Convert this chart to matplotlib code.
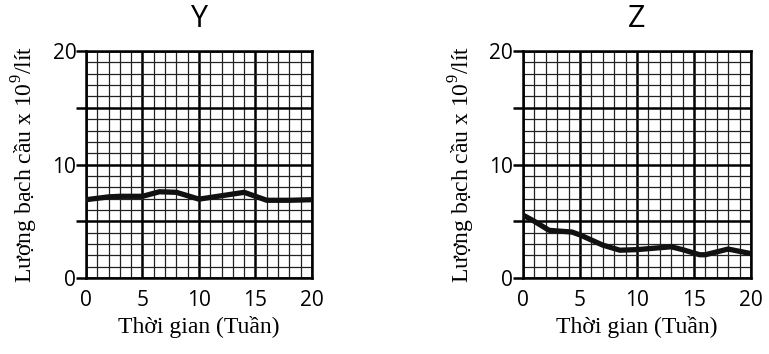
import matplotlib
matplotlib.use("Agg")
import matplotlib.pyplot as plt
import numpy as np

# values
y_weeks = [0, 2, 3, 5, 6.5, 8, 10, 12, 14, 15, 16, 18, 20]
y_vals = [6.9, 7.15, 7.2, 7.2, 7.6, 7.55, 6.95, 7.25, 7.55, 7.2, 6.85, 6.85, 6.9]

z_weeks = [0, 1, 2.3, 4.3, 5, 7, 8.5, 10, 13, 14, 15.5, 16, 18, 20]
z_vals = [5.55, 5.0, 4.2, 4.05, 3.8, 2.9, 2.45, 2.5, 2.75, 2.5, 2.05, 2.05, 2.55, 2.15]

panels = [("Y", y_weeks, y_vals), ("Z", z_weeks, z_vals)]
x_ticks = [0, 5, 10, 15, 20]
y_ticks = [0, 5, 10, 15, 20]
y_ticklabels = ["0", "", "10", "", "20"]

plt.rcParams["mathtext.fontset"] = "custom"
plt.rcParams["mathtext.rm"] = "Liberation Serif"

fig = plt.figure(figsize=(7.69, 3.54), dpi=100)
boxes = [[0.1118, 0.2147, 0.2939, 0.641], [0.680, 0.2147, 0.2965, 0.641]]

for box, (name, wk, vals) in zip(boxes, panels):
    ax = fig.add_axes(box)
    ax.set_xlim(0, 20)
    ax.set_ylim(0, 20)
    ax.set_xticks(x_ticks)
    ax.set_yticks(y_ticks)
    ax.set_yticklabels(y_ticklabels)
    ax.set_xticks(np.arange(0, 21, 1), minor=True)
    ax.set_yticks(np.arange(0, 21, 1), minor=True)
    ax.grid(which="minor", color="#222222", linewidth=0.9)
    ax.grid(which="major", color="black", linewidth=1.8)
    ax.tick_params(axis="x", which="both", length=0, pad=9)
    ax.tick_params(axis="y", which="major", length=7, width=1.8, pad=0)
    ax.tick_params(axis="y", which="minor", length=0)
    for lab in ax.get_xticklabels() + ax.get_yticklabels():
        lab.set_fontfamily("Open Sans")
        lab.set_fontsize(15)
    for s in ax.spines.values():
        s.set_linewidth(1.8)
    ax.plot(wk, vals, color="#111111", linewidth=3.8, solid_capstyle="round",
            solid_joinstyle="round", zorder=5)
    ax.set_title(name, fontsize=22, fontfamily="Open Sans", pad=17)
    ax.set_xlabel("Thời gian (Tuần)", fontsize=17, fontfamily="Liberation Serif", labelpad=3)
    ax.set_ylabel(r"Lượng bạch cầu x 10$^{9}$/lít", fontsize=17,
                  fontfamily="Liberation Serif", labelpad=9)

fig.savefig("out.png", dpi=100)
